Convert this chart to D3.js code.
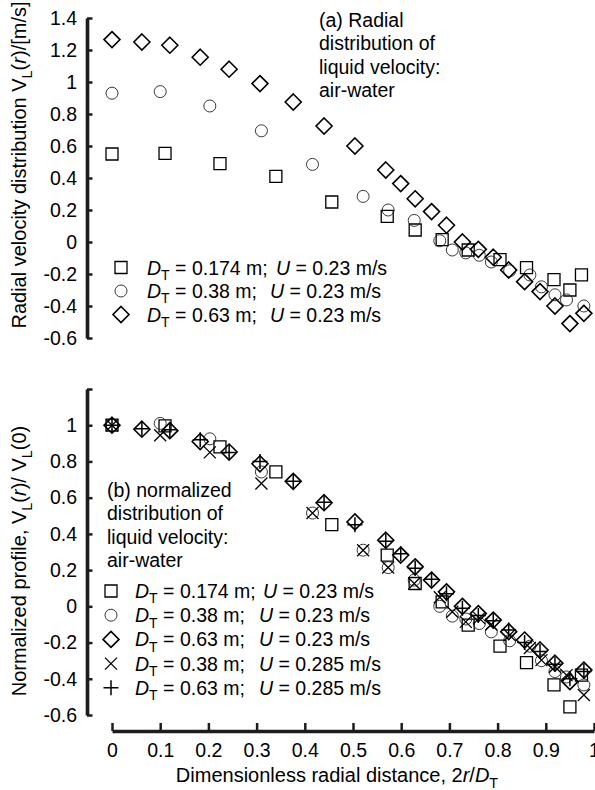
<!DOCTYPE html>
<html>
<head>
<meta charset="utf-8">
<script src="https://cdnjs.cloudflare.com/ajax/libs/d3/7.8.5/d3.min.js"></script>
<style>
    body { margin: 0; background: #fff; }
    text, tspan { font-family: "Liberation Sans", Arial, Helvetica, sans-serif; fill: #000; }
</style>
</head>
<body>
<svg id="Graph"></svg>
<script>
const w = 595;
const h = 790;

// tick values
const xTicks = [0, 0.1, 0.2, 0.3, 0.4, 0.5, 0.6, 0.7, 0.8, 0.9, 1];
const aTicks = [-0.6, -0.4, -0.2, 0, 0.2, 0.4, 0.6, 0.8, 1, 1.2, 1.4];
const bTicks = [-0.6, -0.4, -0.2, 0, 0.2, 0.4, 0.6, 0.8, 1, 1.2];

// (a) radial velocity [m/s]
const sqX = [0, 0.11, 0.224, 0.34, 0.456, 0.571, 0.629, 0.685, 0.739, 0.805, 0.86, 0.917, 0.95, 0.974];
const aSqY = [0.55, 0.554, 0.49, 0.41, 0.25, 0.16, 0.075, 0.015, -0.05, -0.11, -0.16, -0.235, -0.3, -0.205];

const ciX = [0, 0.10, 0.203, 0.31, 0.416, 0.521, 0.573, 0.627, 0.68, 0.706, 0.734, 0.762, 0.787, 0.825, 0.867, 0.891, 0.919, 0.943, 0.979];
const aCiY = [0.93, 0.94, 0.85, 0.695, 0.485, 0.285, 0.2, 0.135, 0.008, -0.05, -0.068, -0.083, -0.125, -0.18, -0.206, -0.28, -0.33, -0.362, -0.4];

const diX = [0, 0.062, 0.12, 0.183, 0.243, 0.307, 0.376, 0.44, 0.504, 0.568, 0.599, 0.629, 0.663, 0.694, 0.727, 0.76, 0.791, 0.823, 0.856, 0.888, 0.919, 0.95, 0.979];
const aDiY = [1.265, 1.25, 1.23, 1.155, 1.08, 0.99, 0.875, 0.725, 0.6, 0.45, 0.365, 0.27, 0.19, 0.105, 0.0, -0.046, -0.095, -0.175, -0.248, -0.31, -0.4, -0.51, -0.446];

// (b) normalized profile
const bSqY = [1.0, 0.996, 0.88, 0.742, 0.451, 0.283, 0.126, 0.025, -0.104, -0.22, -0.311, -0.434, -0.555, -0.38];
const bCiY = [1.0, 1.01, 0.925, 0.742, 0.515, 0.31, 0.214, 0.145, 0.0, -0.054, -0.07, -0.095, -0.141, -0.19, -0.22, -0.3, -0.36, -0.39, -0.434];
const bDiY = [1.0, 0.978, 0.97, 0.91, 0.852, 0.787, 0.69, 0.572, 0.466, 0.365, 0.283, 0.218, 0.145, 0.08, 0.0, -0.04, -0.076, -0.14, -0.186, -0.241, -0.314, -0.416, -0.352];
const bCrY = [1.0, 0.945, 0.85, 0.678, 0.515, 0.31, 0.214, 0.126, 0.05, -0.03, -0.086, -0.065, -0.1, -0.159, -0.23, -0.297, -0.334, -0.38, -0.49];
const bPlY = [1.0, 0.98, 0.975, 0.92, 0.85, 0.8, 0.69, 0.575, 0.45, 0.36, 0.29, 0.21, 0.15, 0.07, -0.01, -0.05, -0.08, -0.13, -0.2, -0.25, -0.32, -0.4, -0.36];

const legendA = [
    { type: "square", d: "0.174 m;", u: "0.23 m/s" },
    { type: "circle", d: "0.38 m;", u: "0.23 m/s" },
    { type: "diamond", d: "0.63 m;", u: "0.23 m/s" }
];
const legendB = [
    { type: "square", d: "0.174 m;", u: "0.23 m/s" },
    { type: "circle", d: "0.38 m;", u: "0.23 m/s" },
    { type: "diamond", d: "0.63 m;", u: "0.23 m/s" },
    { type: "cross", d: "0.38 m;", u: "0.285 m/s" },
    { type: "plus", d: "0.63 m;", u: "0.285 m/s" }
];

const svg = d3.select("#Graph")
    .attr("width", w)
    .attr("height", h);

// scales
const xScale = d3.scaleLinear().domain([0, 1]).range([112, 594]);
const yScaleA = d3.scaleLinear().domain([-0.6, 1.4]).range([338, 18]);
const yScaleB = d3.scaleLinear().domain([-0.6, 1.2]).range([715, 389]);

const axisColor = "#1c1c1c";

// marker shapes
const markerStyle = {
    square: { s: 6, sw: 1.3, c: "#000" },
    circle: { s: 6, sw: 0.9, c: "#222" },
    diamond: { s: 8, sw: 1.6, c: "#000" },
    cross: { s: 6, sw: 1.3, c: "#000" },
    plus: { s: 7.5, sw: 1.5, c: "#000" }
};
function markerPath(type) {
    const s = markerStyle[type].s;
    if (type == "square") return "M" + (-s) + "," + (-s) + "H" + s + "V" + s + "H" + (-s) + "Z";
    if (type == "circle") return "M" + s + ",0A" + s + "," + s + " 0 1,1 " + (-s) + ",0A" + s + "," + s + " 0 1,1 " + s + ",0Z";
    if (type == "diamond") return "M0," + (-s) + "L" + s + ",0L0," + s + "L" + (-s) + ",0Z";
    if (type == "cross") return "M" + (-s) + "," + (-s) + "L" + s + "," + s + "M" + (-s) + "," + s + "L" + s + "," + (-s);
    return "M" + (-s) + ",0H" + s + "M0," + (-s) + "V" + s;
}

function drawSeries(yScale, type, xs, ys) {
    const data = xs.map(function (x, i) { return { x: x, y: ys[i] }; });
    svg.append("g")
        .selectAll("path")
        .data(data)
        .enter()
        .append("path")
        .attr("d", markerPath(type))
        .attr("transform", function (d) {
            return "translate(" + xScale(d.x) + "," + yScale(d.y) + ")";
        })
        .attr("fill", "none")
        .attr("stroke", markerStyle[type].c)
        .attr("stroke-width", markerStyle[type].sw);
}

// text with italic / subscript parts
function richText(g, x, y, parts, size) {
    const t = g.append("text")
        .attr("x", x)
        .attr("y", y)
        .attr("fill", "#000")
        .attr("font-size", size + "px");
    let shifted = false;
    parts.forEach(function (p) {
        const ts = t.append("tspan").attr("fill", "#000").text(p[0]);
        if (p[1] == "i") ts.attr("font-style", "italic");
        if (p[1] == "sub") {
            ts.attr("font-size", (size * 0.72) + "px").attr("dy", size * 0.28);
            shifted = true;
        } else if (shifted) {
            ts.attr("dy", -size * 0.28);
            shifted = false;
        }
    });
    return t;
}

const fmt = function (d) { return String(+d.toFixed(1)); };

function drawYAxis(yScale, ticks, labelFilter) {
    const g = svg.append("g")
        .attr("transform", "translate(87,0)")
        .call(d3.axisLeft(yScale)
            .tickValues(ticks)
            .tickSize(-5.5)
            .tickSizeOuter(0)
            .tickPadding(10)
            .tickFormat(function (d) { return labelFilter(d) ? fmt(d) : ""; }));
    // thick axis bar
    g.select(".domain")
        .attr("stroke", axisColor)
        .attr("stroke-width", 3.6);
    g.selectAll(".tick line").attr("stroke", axisColor).attr("stroke-width", 2.5);
    g.selectAll(".tick text").attr("font-size", "19.5px").attr("font-family", null).attr("fill", "#000");
}

// panel (a)
drawYAxis(yScaleA, aTicks, function () { return true; });
drawSeries(yScaleA, "square", sqX, aSqY);
drawSeries(yScaleA, "circle", ciX, aCiY);
drawSeries(yScaleA, "diamond", diX, aDiY);

// panel (b)
drawYAxis(yScaleB, bTicks, function (d) { return d < 1.1; });
drawSeries(yScaleB, "square", sqX, bSqY);
drawSeries(yScaleB, "circle", ciX, bCiY);
drawSeries(yScaleB, "diamond", diX, bDiY);
drawSeries(yScaleB, "cross", ciX, bCrY);
drawSeries(yScaleB, "plus", diX, bPlY);

// x axis
const xg = svg.append("g")
    .attr("transform", "translate(0,731)")
    .call(d3.axisBottom(xScale)
        .tickValues(xTicks)
        .tickSize(-8)
        .tickSizeOuter(0)
        .tickPadding(12)
        .tickFormat(fmt));
xg.select(".domain")
    .attr("stroke", axisColor)
    .attr("stroke-width", 3.6);
xg.selectAll(".tick line").attr("stroke", axisColor).attr("stroke-width", 2.5);
xg.selectAll(".tick text").attr("font-size", "19.5px").attr("font-family", null).attr("fill", "#000");

// axis titles
richText(svg, 337, 782, [["Dimensionless radial distance, 2", ""], ["r", "i"], ["/", ""], ["D", "i"], ["T", "sub"]], 20)
    .attr("text-anchor", "middle");
richText(svg, 0, 0, [["Radial velocity distribution V", ""], ["L", "sub"], ["(", ""], ["r", "i"], [")/[m/s]", ""]], 20)
    .attr("text-anchor", "middle")
    .attr("transform", "translate(26,165) rotate(-90)");
richText(svg, 0, 0, [["Normalized profile, V", ""], ["L", "sub"], ["(", ""], ["r", "i"], [")/ V", ""], ["L", "sub"], ["(0)", ""]], 20)
    .attr("text-anchor", "middle")
    .attr("transform", "translate(26,561) rotate(-90)");

// annotations
const noteA = ["(a) Radial", "distribution of", "liquid velocity:", "air-water"];
svg.append("g").selectAll("text")
    .data(noteA)
    .enter()
    .append("text")
    .attr("x", 319)
    .attr("y", function (d, i) { return 27 + i * 23.3; })
    .attr("font-size", "19.5px")
    .attr("fill", "#000")
    .text(function (d) { return d; });

const noteB = ["(b) normalized", "distribution of", "liquid velocity:", "air-water"];
svg.append("g").selectAll("text")
    .data(noteB)
    .enter()
    .append("text")
    .attr("x", 107)
    .attr("y", function (d, i) { return 497 + i * 23.3; })
    .attr("font-size", "19.5px")
    .attr("fill", "#000")
    .text(function (d) { return d; });

// legends
function drawLegend(items, x0, y0, step, textX, uX) {
    items.forEach(function (it, i) {
        const y = y0 + i * step;
        svg.append("path")
            .attr("d", markerPath(it.type))
            .attr("transform", "translate(" + x0 + "," + (y - 7) + ")")
            .attr("fill", "none")
            .attr("stroke", markerStyle[it.type].c)
            .attr("stroke-width", markerStyle[it.type].sw);
        richText(svg, textX, y, [["D", "i"], ["T", "sub"], [" = " + it.d, ""]], 19.5);
        richText(svg, uX[i], y, [["U", "i"], [" = " + it.u, ""]], 19.5);
    });
}
drawLegend(legendA, 121, 274.5, 23.5, 147, [276, 270, 270]);
drawLegend(legendB, 111, 598, 24.2, 135, [263, 259, 259, 259, 259]);
</script>
</body>
</html>
